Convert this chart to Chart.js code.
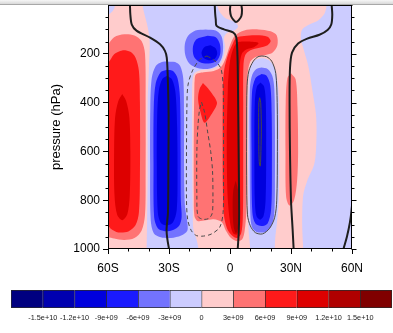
<!DOCTYPE html>
<html>
<head>
<meta charset="utf-8">
<script src="https://cdn.jsdelivr.net/npm/chart.js@4.4.0/dist/chart.umd.min.js"></script>
<style>
  html, body { margin: 0; padding: 0; background: #fff; }
  #wrap { position: relative; width: 393px; height: 333px; overflow: hidden; }
  #field { position: absolute; left: 0; top: 0; }
  #bar { position: absolute; left: 0; top: 284px; }
  #band { position: absolute; left: 0; top: 0; width: 393px; height: 4px;
          background: linear-gradient(#f6f6f6, #d8d8d8); border-bottom: 1px solid #a8a8a8; }
</style>
</head>
<body>
<div id="wrap">
  <canvas id="field" width="393" height="285"></canvas>
  <canvas id="bar" width="393" height="45"></canvas>
  <div id="band"></div>
</div>
<script>
// Axis ticks
const latTicks = [-60, -30, 0, 30, 60];
const pressureTicks = [200, 400, 600, 800, 1000];

// Colour bar labels (contour levels)
const levelLabels = ['-1.5e+10', '-1.2e+10', '-9e+09', '-6e+09', '-3e+09', '0',
                     '3e+09', '6e+09', '9e+09', '1.2e+10', '1.5e+10'];
const palette = ['#000080', '#0000b0', '#0000dd', '#1a1aff', '#7373ff', '#ccccff',
                 '#ffcccc', '#ff7373', '#ff1a1a', '#dd0000', '#b00000', '#800000'];

// Filled contour regions, [latitude, pressure]
const basePink = [[-65, -50], [65, -50], [65, 1050], [-65, 1050]];
const lavCornerTL = [[-63, -30], [-56.5, -30], [-56.8, 10], [-58, 28], [-60, 40], [-63, 45]];
const lavCentral = [[-43, -30], [-43, 0], [-42, 40], [-40.5, 90], [-39.5, 150], [-39.8, 240],
  [-40.5, 400], [-40.5, 700], [-40.8, 900], [-41, 1000], [-41, 1030], [-15.5, 1030], [-15.5, 1000],
  [-16.5, 960], [-18, 920], [-18.3, 850], [-18.5, 700], [-18.6, 450], [-18.5, 320], [-17.5, 280],
  [-14, 266], [-9, 262], [-5, 245], [-3, 205], [-2.5, 170], [-3, 135], [-1.5, 115], [2, 105],
  [4, 88], [2, 68], [-2, 55], [-4.5, 35], [-6, 10], [-6.5, -30]];
const lavRight = [[47.5, -30], [47.5, 0], [46.5, 35], [43.5, 62], [39, 80], [35.5, 100], [34.8, 135],
  [36, 175], [38.5, 250], [40.5, 350], [42.3, 450], [42.5, 550], [41.5, 650], [38, 720], [36, 780],
  [35.5, 900], [36, 1000], [36, 1030], [63, 1030], [63, -30]];
const lavColumnN = [[10, 1030], [10, 1000], [9.5, 960], [9, 900], [8.9, 700], [8.9, 450], [9.2, 310],
  [10, 250], [12.5, 225], [16, 218], [19.5, 228], [22.5, 270], [24, 380], [24.2, 600], [24, 800],
  [23, 900], [22.2, 960], [22, 1000], [22, 1030]];

const blueS1 = [[-31, 232], [-27, 234], [-24.5, 250], [-23, 300], [-22.6, 450], [-22.6, 650],
  [-22.2, 820], [-21, 890], [-21, 925], [-24, 945], [-29, 955], [-34, 952], [-37.5, 935], [-39, 880],
  [-39.3, 650], [-39.2, 420], [-38.5, 300], [-36.5, 250], [-33.5, 234], [-31, 232]];
const blueS2 = [[-31, 265], [-28, 270], [-25.8, 300], [-24.6, 380], [-24.3, 600], [-24.2, 800],
  [-23.8, 870], [-25, 905], [-28, 922], [-32, 927], [-35.5, 915], [-37.3, 870], [-37.6, 650],
  [-37.5, 420], [-36.5, 320], [-34, 275], [-31, 265]];
const blueS3 = [[-31, 290], [-28.5, 305], [-26.8, 360], [-26, 500], [-25.8, 700], [-26.2, 840],
  [-28, 890], [-31, 903], [-34, 893], [-35.5, 850], [-36, 650], [-35.8, 450], [-35, 350],
  [-33.3, 303], [-31, 290]];

const blobS1 = [[-12, 100], [-7, 105], [-4.2, 128], [-3.4, 170], [-4, 215], [-6.5, 248], [-11, 262],
  [-16, 258], [-20, 240], [-22, 205], [-22.2, 160], [-20.5, 125], [-17, 104], [-12, 100]];
const blobS2 = [[-11, 126], [-7, 132], [-5, 160], [-4.8, 200], [-6.5, 228], [-10.5, 240], [-15, 234],
  [-17.8, 210], [-18.2, 170], [-16.5, 140], [-11, 126]];
const blobS3 = [[-9.5, 165], [-7, 178], [-6.3, 200], [-7.5, 220], [-10.5, 226], [-13.2, 215],
  [-14, 195], [-12.5, 172], [-9.5, 165]];

const blueN1 = [[15.5, 256], [18.5, 262], [20.8, 290], [21.8, 345], [22.1, 500], [22.1, 750],
  [21.7, 860], [20.3, 905], [17.5, 930], [13, 930], [10.8, 910], [10, 860], [9.7, 600], [9.8, 340],
  [11, 285], [13, 262], [15.5, 256]];
const blueN2 = [[15.5, 283], [18, 290], [19.8, 330], [20.5, 450], [20.6, 700], [20.2, 840], [18.5, 895],
  [15.5, 906], [12.5, 896], [11, 850], [10.6, 600], [10.8, 360], [12.5, 300], [15.5, 283]];
const blueN3 = [[15, 318], [16.8, 335], [17.6, 400], [17.8, 600], [17.5, 800], [16.5, 865], [14.8, 880],
  [13, 865], [12.2, 800], [12, 600], [12.2, 400], [13.2, 335], [15, 318]];

const redS1 = [[-63, 170], [-60, 160], [-57, 132], [-52, 120], [-47, 125], [-43.5, 148], [-41.8, 200],
  [-41.5, 400], [-41.5, 700], [-41.8, 860], [-43.5, 925], [-47, 955], [-52, 963], [-57, 957],
  [-60, 952], [-63, 950]];
const redS2 = [[-63, 245], [-60, 238], [-57, 202], [-53, 186], [-49, 192], [-46.5, 215], [-44.8, 270],
  [-44.3, 400], [-44.3, 700], [-44.8, 850], [-46.5, 903], [-50, 928], [-55, 932], [-58.5, 918],
  [-60, 905], [-63, 900]];
const redS3 = [[-53, 365], [-51, 395], [-49.5, 460], [-49, 600], [-49.3, 780], [-50.5, 858], [-53, 882],
  [-55.5, 860], [-56.8, 780], [-57, 600], [-56.5, 460], [-55, 395], [-53, 365]];

const redE1 = [[-17.5, 320], [-16.8, 285], [-13, 276], [-8, 270], [-4.5, 255], [-2, 215], [0, 165],
  [2.5, 125], [7, 104], [14, 100], [20, 108], [23, 125], [23.3, 165], [21, 195], [17.5, 205],
  [13, 212], [10, 232], [8.6, 290], [8.3, 500], [8.2, 700], [8, 850], [7.2, 925], [6, 960],
  [3.5, 968], [0.5, 955], [-2, 925], [-4, 890], [-8, 878], [-12, 882], [-16, 885], [-17.5, 865],
  [-17.8, 780], [-17.8, 500], [-17.5, 320]];
const redE2 = [[-3.5, 330], [-2.8, 262], [-1, 205], [1, 165], [3, 135], [7, 127], [13, 124],
  [18.5, 130], [20, 148], [18.5, 165], [14.5, 175], [10, 185], [7.5, 205], [6.6, 250], [6.5, 400],
  [6.5, 700], [6.3, 870], [5.5, 935], [3.5, 955], [1, 945], [-1.5, 915], [-3, 860], [-3.5, 750],
  [-3.6, 500], [-3.5, 330]];
const redE3 = [[-1, 320], [0, 230], [1.8, 175], [4, 152], [9, 150], [14, 156], [12, 172], [8, 182],
  [5.8, 200], [4.8, 250], [4.6, 500], [4.8, 800], [4.6, 900], [3.5, 940], [1.5, 935], [0, 890],
  [-1.2, 780], [-1.6, 550], [-1, 320]];
const redE4 = [[2.8, 720], [4, 760], [4.5, 840], [4.2, 905], [3, 935], [1.8, 910], [1.3, 830],
  [1.6, 760], [2.8, 720]];
const redMid2 = [[-13.3, 320], [-10, 350], [-6.4, 400], [-8.5, 440], [-12.5, 483], [-14.5, 440],
  [-15.7, 385], [-15, 345], [-13.3, 320]];
const redN1 = [[30, 280], [32.3, 305], [33.2, 420], [33.5, 600], [33, 720], [31.5, 800], [29.2, 822],
  [27.6, 785], [27.3, 600], [27.4, 400], [28.2, 300], [30, 280]];

// Overlaid contour lines
const zeroWest = [[-49.2, -10], [-49.2, 0], [-49, 40], [-48.3, 80], [-46, 105], [-39.3, 134],
  [-34.4, 161], [-32, 188], [-31.1, 216], [-30.6, 300], [-30.2, 450], [-30.3, 650], [-30.5, 850],
  [-31.2, 920], [-30.8, 960], [-30, 1000], [-29.9, 1010]];
const zeroMid = [[-7.5, -10], [-7.5, 0], [-7.3, 35], [-7, 60], [-6.6, 86], [-3, 100], [1.5, 112],
  [3, 130], [3.5, 170], [3.8, 250], [4, 400], [4.3, 650], [4.5, 850], [4.3, 930], [3.8, 1000],
  [3.7, 1010]];
const zeroEast = [[50, -10], [50, 0], [50.3, 40], [49.8, 80], [48, 102], [44, 122], [38, 138],
  [33.5, 158], [30.5, 195], [29.5, 260], [29.3, 400], [29.5, 600], [30, 800], [30.8, 920],
  [31.3, 1000], [31.4, 1010]];
const zeroCorner = [[55.6, 1010], [55.8, 1000], [57.5, 950], [59, 890], [59.8, 840], [60.3, 790]];
const zeroTopLoop = [[0.2, -10], [0.2, 0], [0, 20], [0.5, 45], [1.8, 62], [2.9, 70], [4.3, 62],
  [5.6, 45], [5.9, 20], [5.6, 0], [5.6, -10]];
const negOuter = [[-11.4, 209], [-8.5, 222], [-6, 240], [-4.3, 265], [-3.4, 330], [-3.2, 500],
  [-3.2, 700], [-3.4, 850], [-5, 910], [-9, 938], [-13, 947], [-16.5, 945], [-19, 925], [-20.8, 880],
  [-21.4, 800], [-21.4, 600], [-21.2, 420], [-20.7, 330], [-18.5, 270], [-15, 225], [-11.4, 209]];
const negInner = [[-14, 398], [-12.5, 440], [-11, 520], [-9.5, 600], [-8.6, 680], [-8.4, 800],
  [-8.8, 855], [-10.5, 875], [-13.5, 878], [-15.8, 865], [-16.3, 780], [-16.3, 600], [-15.8, 500],
  [-15, 430], [-14, 398]];
const posOuter = [[15.7, 209], [18, 212], [20.5, 230], [22.5, 280], [23.2, 400], [23.3, 600],
  [23, 800], [22, 870], [19.5, 915], [16, 938], [12.5, 933], [10, 905], [8.6, 860], [8.2, 700],
  [8.2, 500], [8.4, 330], [9.3, 270], [11.5, 230], [13.8, 212], [15.7, 209]];
const posInner = [[14.6, 380], [15.1, 400], [15.4, 500], [15.2, 600], [14.9, 660], [14.5, 655],
  [14.2, 600], [14.1, 480], [14.2, 400], [14.6, 380]];

// paint order: [region, colour index]
const fieldLayers = [
  [basePink, 6], [lavCornerTL, 5], [lavCentral, 5], [lavRight, 5], [lavColumnN, 5],
  [blueS1, 4], [blueS2, 3], [blueS3, 2],
  [blobS1, 4], [blobS2, 3], [blobS3, 2],
  [blueN1, 4], [blueN2, 3], [blueN3, 2],
  [redS1, 7], [redS2, 8], [redS3, 9],
  [redE1, 7], [redE2, 8], [redE3, 9], [redE4, 10],
  [redMid2, 8], [redN1, 7]
];
const thick = { borderColor: '#1e1e1e', borderWidth: 2 };
const thin = { borderColor: '#484848', borderWidth: 1 };
const dashed = { borderColor: '#4a4a4a', borderWidth: 1, borderDash: [4, 3] };
const contourLines = [
  [zeroWest, thick], [zeroMid, thick], [zeroEast, thick], [zeroCorner, thick], [zeroTopLoop, thick],
  [negOuter, dashed], [negInner, dashed], [posOuter, thin], [posInner, thin]
];

const toXY = pts => pts.map(([x, y]) => ({ x, y }));

const fieldSets = fieldLayers.map(([pts, c], i) => ({
  data: toXY(pts),
  showLine: true,
  fill: 'shape',
  backgroundColor: palette[c],
  borderWidth: 0,
  pointRadius: 0,
  tension: c === 6 ? 0 : 0.3,
  order: 1000 - i
}));
const lineSets = contourLines.map(([pts, style], i) => Object.assign({
  data: toXY(pts),
  showLine: true,
  fill: false,
  pointRadius: 0,
  tension: 0.3,
  order: -i
}, style));

Chart.defaults.font.family = '"Liberation Sans", Arial, Helvetica, sans-serif';
Chart.defaults.color = '#000';

// outline box and the minor / mirrored tick marks
const frame = {
  id: 'frame',
  afterDatasetsDraw(chart) {
    const { ctx, chartArea: a, scales: { x, y } } = chart;
    const L = Math.round(a.left) + 0.5, R = Math.round(a.right) - 0.5;
    const T = Math.round(a.top) + 0.5, B = Math.round(a.bottom) - 0.5;
    ctx.save();
    ctx.strokeStyle = '#000';
    ctx.lineWidth = 1;
    ctx.beginPath();
    for (let p = 50; p <= 1000; p += 50) {
      const py = Math.round(y.getPixelForValue(p)) + 0.5;
      const major = pressureTicks.includes(p);
      if (!major) { ctx.moveTo(L - 3, py); ctx.lineTo(L, py); }
      ctx.moveTo(R, py); ctx.lineTo(R + (major ? 5 : 3), py);
    }
    for (let lat = -60; lat <= 60; lat += 10) {
      const px = Math.round(x.getPixelForValue(lat)) + 0.5;
      const major = latTicks.includes(lat);
      if (!major) { ctx.moveTo(px, B); ctx.lineTo(px, B + 3); }
      ctx.moveTo(px, T); ctx.lineTo(px, T - (major ? 5 : 3));
    }
    ctx.stroke();
    ctx.strokeRect(L, T, R - L, B - T);
    ctx.restore();
  }
};

new Chart(document.getElementById('field'), {
  type: 'scatter',
  data: { datasets: [...fieldSets, ...lineSets] },
  options: {
    responsive: false,
    animation: false,
    events: [],
    layout: { padding: { top: 5, right: 41, left: 0, bottom: 0 } },
    plugins: { legend: { display: false }, tooltip: { enabled: false } },
    scales: {
      x: {
        type: 'linear', min: -60, max: 60,
        afterBuildTicks(s) { s.ticks = latTicks.map(v => ({ value: v })); },
        afterFit(s) { s.height = 36; s.paddingLeft = 0; s.paddingRight = 0; },
        grid: { drawOnChartArea: false, tickLength: 5, tickColor: '#000', tickWidth: 1 },
        border: { display: false },
        ticks: {
          padding: 7, maxRotation: 0, font: { size: 12 }, color: '#000',
          callback: v => v < 0 ? `${-v}S` : v > 0 ? `${v}N` : '0'
        }
      },
      y: {
        type: 'linear', reverse: true, min: 0, max: 1000,
        afterBuildTicks(s) { s.ticks = pressureTicks.map(v => ({ value: v })); },
        afterFit(s) { s.width = 108; s.paddingTop = 0; s.paddingBottom = 0; },
        grid: { drawOnChartArea: false, tickLength: 5, tickColor: '#000', tickWidth: 1 },
        border: { display: false },
        title: {
          display: true, text: 'pressure (hPa)', color: '#000',
          font: { size: 13 }, padding: { top: 49, bottom: 0 }
        },
        ticks: { padding: 3, font: { size: 12 }, color: '#000', callback: v => String(v) }
      }
    }
  },
  plugins: [frame]
});

// Label bar
new Chart(document.getElementById('bar'), {
  type: 'bar',
  data: {
    labels: [''],
    datasets: palette.map((c, i) => ({
      data: [1],
      backgroundColor: c,
      borderColor: '#2a2a2a',
      borderWidth: { left: 1, top: 1, bottom: 1, right: i === palette.length - 1 ? 1 : 0 },
      borderSkipped: false,
      barPercentage: 1,
      categoryPercentage: 1
    }))
  },
  options: {
    indexAxis: 'y',
    responsive: false,
    animation: false,
    events: [],
    layout: { padding: { left: 11, right: 1, top: 6, bottom: 0 } },
    plugins: { legend: { display: false }, tooltip: { enabled: false } },
    scales: {
      x: {
        stacked: true, min: 0, max: 12,
        afterBuildTicks(s) { s.ticks = levelLabels.map((t, i) => ({ value: i + 1 })); },
        afterFit(s) { s.height = 21; s.paddingLeft = 0; s.paddingRight = 0; },
        grid: { display: false, drawTicks: false },
        border: { display: false },
        ticks: {
          autoSkip: false, maxRotation: 0, padding: 6, color: '#222',
          font: { size: 7.3 },
          callback: v => levelLabels[v - 1]
        }
      },
      y: { stacked: true, display: false }
    }
  }
});
</script>
</body>
</html>
